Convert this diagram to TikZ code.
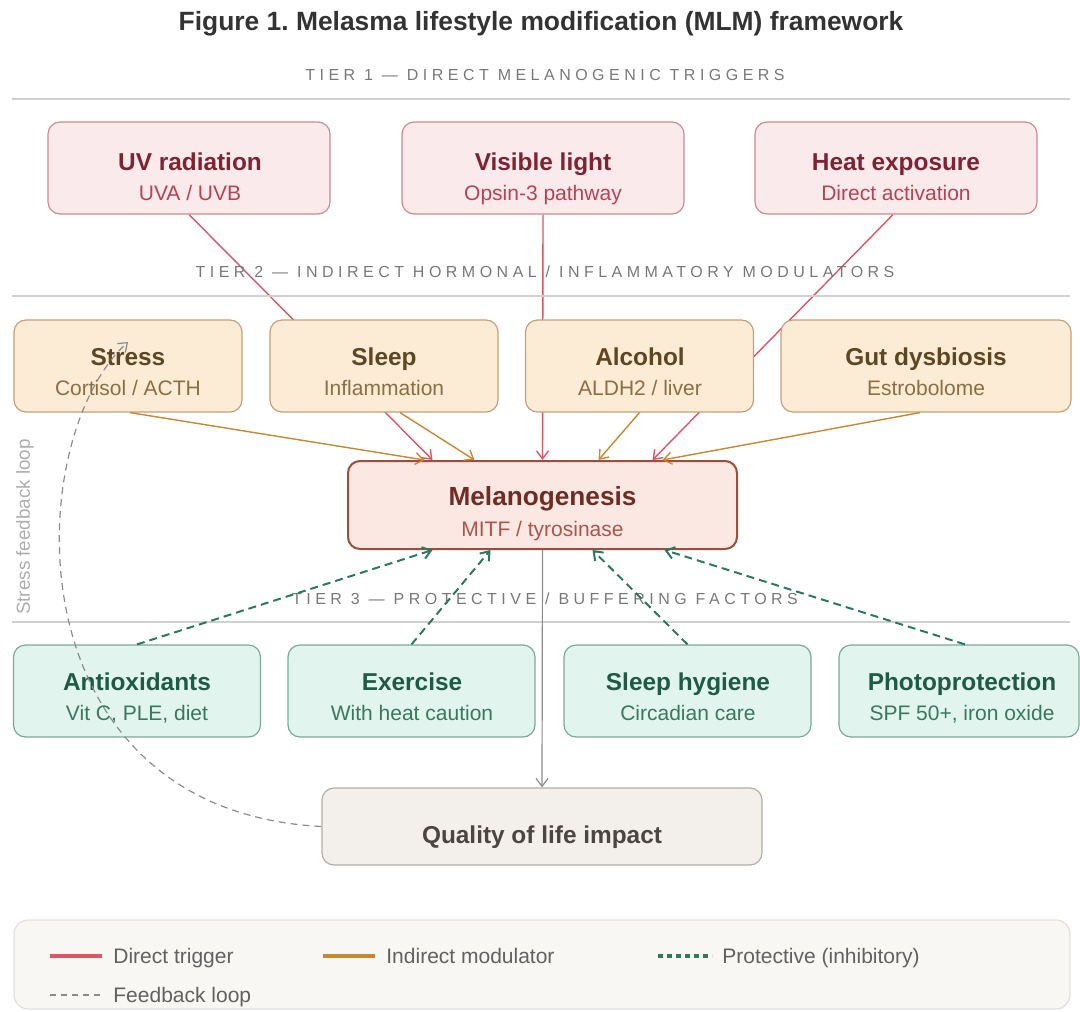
\documentclass[tikz,border=0pt]{standalone}
\usepackage{fontspec}
\setmainfont{Liberation Sans}
\newfontfamily\tierfont[LetterSpace=28]{Liberation Sans}
\usetikzlibrary{arrows.meta}
\pgfdeclarelayer{behind}
\pgfsetlayers{behind,main}
\frenchspacing

\definecolor{trigFill}{RGB}{251,234,236}
\definecolor{trigEdge}{RGB}{204,138,146}
\definecolor{trigTtl}{RGB}{125,35,50}
\definecolor{trigSub}{RGB}{182,66,82}
\definecolor{modFill}{RGB}{252,236,214}
\definecolor{modEdge}{RGB}{192,162,122}
\definecolor{modTtl}{RGB}{95,70,35}
\definecolor{modSub}{RGB}{140,110,65}
\definecolor{melFill}{RGB}{251,232,226}
\definecolor{melEdge}{RGB}{150,80,60}
\definecolor{melTtl}{RGB}{110,45,35}
\definecolor{melSub}{RGB}{170,85,75}
\definecolor{protFill}{RGB}{225,244,237}
\definecolor{protEdge}{RGB}{122,170,150}
\definecolor{protTtl}{RGB}{30,90,70}
\definecolor{protSub}{RGB}{55,120,95}
\definecolor{qolFill}{RGB}{243,239,235}
\definecolor{qolEdge}{RGB}{182,174,166}
\definecolor{qolText}{RGB}{75,70,65}
\definecolor{dirRed}{RGB}{220,85,100}
\definecolor{modOrange}{RGB}{200,135,50}
\definecolor{protGreen}{RGB}{45,120,95}
\definecolor{fbGray}{RGB}{140,140,140}
\definecolor{tierGray}{RGB}{120,120,120}
\definecolor{ruleGray}{RGB}{208,208,208}
\definecolor{legFill}{RGB}{249,247,244}

\tikzset{
    box/.style={draw, rounded corners=6pt, inner sep=0pt, line width=0.6pt, minimum height=46pt},
    trig/.style={box, fill=trigFill, draw=trigEdge, minimum width=141pt},
    modu/.style={box, fill=modFill, draw=modEdge, minimum width=114pt},
    prot/.style={box, fill=protFill, draw=protEdge, minimum width=123.5pt},
    ttl/.style={anchor=base, inner sep=0pt, font=\fontsize{12.2}{14}\selectfont\bfseries},
    subtxt/.style={anchor=base, inner sep=0pt, font=\fontsize{10.5}{12}\selectfont},
    tierlbl/.style={anchor=base, inner sep=0pt, text=tierGray, font=\tierfont\fontsize{8}{9}\selectfont},
    tierline/.style={line width=1.2pt, ruleGray},
    legtxt/.style={anchor=base west, inner sep=0pt, text=black!62, font=\fontsize{10.5}{12}\selectfont},
    tip/.style={-{Straight Barb[length=4pt,width=6pt]}},
    direct/.style={tip, draw=dirRed, line width=0.7pt},
    indirect/.style={tip, draw=modOrange, line width=0.7pt},
    protect/.style={tip, draw=protGreen, line width=1pt, dash pattern=on 4pt off 2.5pt},
    fback/.style={tip, draw=fbGray, line width=0.6pt, dash pattern=on 3.5pt off 2.5pt}
}

\begin{document}
\begin{tikzpicture}[x=0.5pt,y=-0.5pt]
\useasboundingbox (0,0) rectangle (1080,1011);

% title and tier rules
\node[anchor=base, inner sep=0pt, text=black!80, font=\fontsize{13.2}{16}\selectfont\bfseries] (title) at (541,31)
    {Figure 1. Melasma lifestyle modification (MLM) framework};
\node[tierlbl] (tierA) at (545,81) {TIER 1 — DIRECT MELANOGENIC TRIGGERS};
\node[tierlbl] (tierB) at (545,277) {TIER 2 — INDIRECT HORMONAL / INFLAMMATORY MODULATORS};
\node[tierlbl] (tierC) at (545,604) {TIER 3 — PROTECTIVE / BUFFERING FACTORS};
\draw[tierline] (12,99) -- (1070,99);
\draw[tierline] (12,296) -- (1070,296);
\draw[tierline] (12,622) -- (1070,622);

% tier 1
\node[trig] (uv) at (189,168) {};
\node[trig] (vis) at (543,168) {};
\node[trig] (heat) at (896,168) {};
\node[ttl, text=trigTtl] (uvT) at (190,170) {UV radiation};
\node[subtxt, text=trigSub] (uvS) at (190,200) {UVA / UVB};
\node[ttl, text=trigTtl] (visT) at (543,170) {Visible light};
\node[subtxt, text=trigSub] (visS) at (543,200) {Opsin-3 pathway};
\node[ttl, text=trigTtl] (heatT) at (896,170) {Heat exposure};
\node[subtxt, text=trigSub] (heatS) at (896,200) {Direct activation};

% tier 2
\node[modu] (stress) at (128,366) {};
\node[modu] (sleep) at (384,366) {};
\node[modu] (alc) at (639.5,366) {};
\node[modu, minimum width=145pt] (gut) at (926,366) {};
\node[ttl, text=modTtl] (stressT) at (128,365) {Stress};
\node[subtxt, text=modSub] (stressS) at (128,395) {Cortisol / ACTH};
\node[ttl, text=modTtl] (sleepT) at (384,365) {Sleep};
\node[subtxt, text=modSub] (sleepS) at (384,395) {Inflammation};
\node[ttl, text=modTtl] (alcT) at (640,365) {Alcohol};
\node[subtxt, text=modSub] (alcS) at (640,395) {ALDH2 / liver};
\node[ttl, text=modTtl] (gutT) at (926,365) {Gut dysbiosis};
\node[subtxt, text=modSub] (gutS) at (926,395) {Estrobolome};

% melanogenesis
\node[box, fill=melFill, draw=melEdge, line width=1pt, minimum width=194.5pt, minimum height=44pt] (mel) at (542.5,505) {};
\node[ttl, text=melTtl, font=\fontsize{13.1}{15}\selectfont\bfseries] (melT) at (542.5,505) {Melanogenesis};
\node[subtxt, text=melSub] (melS) at (542.5,536) {MITF / tyrosinase};

% tier 3
\node[prot] (anti) at (137,691) {};
\node[prot] (exer) at (411.5,691) {};
\node[prot] (hyg) at (687.5,691) {};
\node[prot, minimum width=120pt] (photo) at (959,691) {};
\node[ttl, text=protTtl] (antiT) at (137,690) {Antioxidants};
\node[subtxt, text=protSub] (antiS) at (137,720) {Vit C, PLE, diet};
\node[ttl, text=protTtl] (exerT) at (412,690) {Exercise};
\node[subtxt, text=protSub] (exerS) at (412,720) {With heat caution};
\node[ttl, text=protTtl] (hygT) at (688,690) {Sleep hygiene};
\node[subtxt, text=protSub] (hygS) at (688,720) {Circadian care};
\node[ttl, text=protTtl] (photoT) at (962,690) {Photoprotection};
\node[subtxt, text=protSub] (photoS) at (962,720) {SPF 50+, iron oxide};

% outcome
\node[box, fill=qolFill, draw=qolEdge, minimum width=220pt, minimum height=38.5pt] (qol) at (542,826.5) {};
\node[ttl, text=qolText] (qolT) at (542,843) {Quality of life impact};

% direct triggers, passing under tier 2
\begin{pgfonlayer}{behind}
\draw[direct] (uv.south) -- ([xshift=-55pt]mel.north);
\draw[direct] (vis.south) -- (mel.north);
\draw[direct] ([xshift=-1.5pt]heat.south) -- ([xshift=55pt]mel.north);
\end{pgfonlayer}

% indirect modulators
\draw[indirect] ([xshift=1pt]stress.south) -- ([xshift=-59pt]mel.north);
\draw[indirect] ([xshift=8pt]sleep.south) -- ([xshift=-34pt]mel.north);
\draw[indirect] (alc.south) -- ([xshift=28pt]mel.north);
\draw[indirect] ([xshift=-3pt]gut.south) -- ([xshift=60pt]mel.north);

% protective factors
\draw[protect] (anti.north) -- ([xshift=-55pt]mel.south);
\draw[protect] (exer.north) -- ([xshift=-26pt]mel.south);
\draw[protect] (hyg.north) -- ([xshift=25pt]mel.south);
\draw[protect] ([xshift=3pt]photo.north) -- ([xshift=61pt]mel.south);

% outcome and feedback
\draw[tip, draw=fbGray, line width=0.6pt] (mel.south) -- (qol.north);
\draw[fback] (qol.west) .. controls (10,810) and (20,440) .. ([yshift=12pt]stress.center);
\node[rotate=90, inner sep=0pt, text=black!32, font=\fontsize{9.4}{11}\selectfont] (loopL) at (25,527) {Stress feedback loop};

% legend
\draw[rounded corners=7pt, fill=legFill, draw=black!12, line width=0.6pt] (14,920) rectangle (1070,1009);
\draw[dirRed, line width=1.6pt] (50,956) -- (102,956);
\node[legtxt] (legA) at (113,963.5) {Direct trigger};
\draw[modOrange, line width=1.6pt] (323,956) -- (375,956);
\node[legtxt] (legB) at (386,963.5) {Indirect modulator};
\draw[protGreen, line width=1.6pt, dash pattern=on 2.5pt off 2pt] (658,956) -- (712,956);
\node[legtxt] (legC) at (722,963.5) {Protective (inhibitory)};
\draw[fbGray, line width=0.8pt, dash pattern=on 3pt off 2.5pt] (50,995) -- (102,995);
\node[legtxt] (legD) at (113,1002.5) {Feedback loop};
\end{tikzpicture}
\end{document}
